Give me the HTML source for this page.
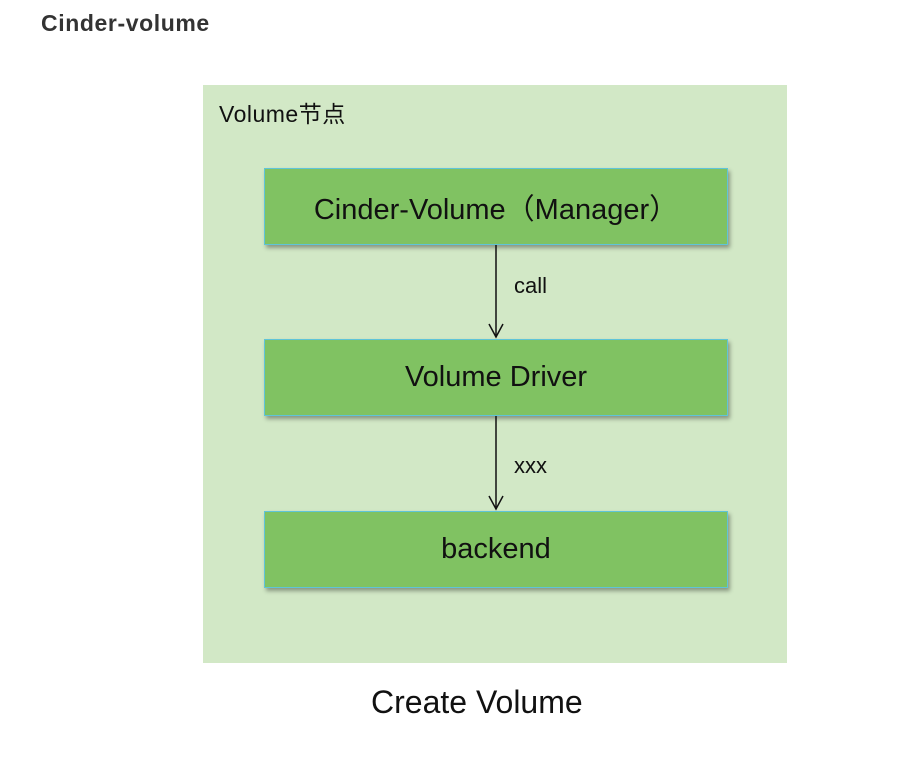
<!DOCTYPE html>
<html><head><style>
body{margin:0;width:903px;height:764px;background:#fff;position:relative;font-family:"Liberation Sans","Noto Sans CJK SC",sans-serif;overflow:hidden}
.t{position:absolute;white-space:nowrap}
.box{position:absolute;left:264px;width:462px;height:75px;background:#80c262;border:1px solid #5fc4d8;box-shadow:2px 3px 4px rgba(0,0,0,0.35);display:flex;align-items:center;justify-content:center;font-size:29px;color:#111}
</style></head><body>
<div class="t" style="left:41px;top:10px;font-size:23px;font-weight:bold;color:#333;letter-spacing:0.6px">Cinder-volume</div>
<div style="position:absolute;left:203px;top:85px;width:584px;height:578px;background:#d2e8c6"></div>
<div class="t" style="left:219px;top:95px;font-size:23px;color:#111;letter-spacing:0.5px">Volume节点</div>
<div class="box" style="top:168px">Cinder-Volume（Manager）</div>
<div class="box" style="top:339px">Volume Driver</div>
<div class="box" style="top:511px">backend</div>
<svg style="position:absolute;left:0;top:0" width="903" height="764">
<line x1="496" y1="245" x2="496" y2="337" stroke="#111" stroke-width="1.5"/>
<polyline points="489,324 496,337 503,324" fill="none" stroke="#111" stroke-width="1.5"/>
<line x1="496" y1="416" x2="496" y2="509" stroke="#111" stroke-width="1.5"/>
<polyline points="489,496 496,509 503,496" fill="none" stroke="#111" stroke-width="1.5"/>
</svg>
<div class="t" style="left:514px;top:273px;font-size:22px;color:#111">call</div>
<div class="t" style="left:514px;top:453px;font-size:22px;color:#111">xxx</div>
<div class="t" style="left:371px;top:684px;font-size:32px;color:#111">Create Volume</div>
</body></html>
